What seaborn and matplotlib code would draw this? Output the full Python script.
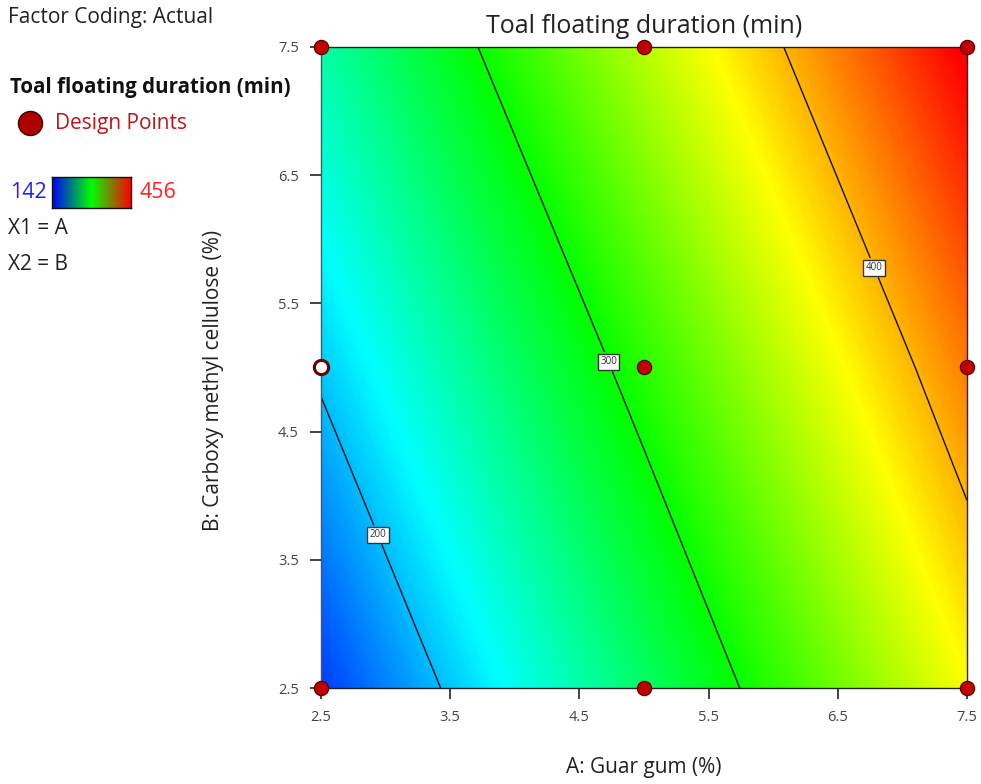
import numpy as np
import pandas as pd
import matplotlib
matplotlib.use("Agg")
import matplotlib.pyplot as plt
from matplotlib.colors import LinearSegmentedColormap
import seaborn as sns

# ---- data ----
guar_levels = [2.5, 5.0, 7.5]          # A: Guar gum (%)
cmc_levels = [2.5, 5.0, 7.5]           # B: Carboxy methyl cellulose (%)
# predicted response at the design grid (rows = CMC level, cols = guar level)
response_grid = [
    [160, 268, 376],
    [204, 311, 417],
    [248, 355, 459],
]
contour_levels = [200, 300, 400]
resp_min, resp_max = 142, 456

design_A = [2.5, 5.0, 7.5, 5.0, 7.5, 2.5, 5.0, 7.5]
design_B = [2.5, 2.5, 2.5, 5.0, 5.0, 7.5, 7.5, 7.5]
hollow_A = [2.5]
hollow_B = [5.0]

xticks = [2.5, 3.5, 4.5, 5.5, 6.5, 7.5]
yticks = [2.5, 3.5, 4.5, 5.5, 6.5, 7.5]

# ---- style ----
sns.set_theme(style="white")
plt.rcParams["font.family"] = ["Open Sans", "DejaVu Sans"]

W, H = 981, 784
fig = plt.figure(figsize=(W / 100, H / 100), dpi=100)
ax = fig.add_axes([321 / W, 1 - 688 / H, (967 - 321) / W, (688 - 47) / H])

cmap = LinearSegmentedColormap.from_list(
    "de", ["#0000ff", "#00ffff", "#00ff00", "#ffff00", "#ff0000"])

Ag, Bg = np.meshgrid(guar_levels, cmc_levels)
Z = np.array(response_grid, dtype=float)
fill_levels = np.linspace(Z.min() - 1, Z.max() + 1, 400)
ax.contourf(Ag, Bg, Z, levels=fill_levels, cmap=cmap,
            vmin=resp_min, vmax=resp_max, antialiased=False, zorder=1)
cs = ax.contour(Ag, Bg, Z, levels=contour_levels, colors="#111111",
                linewidths=1.0, zorder=2)
labels = ax.clabel(cs, fmt="%d", fontsize=7, inline=True, inline_spacing=2,
                   manual=[(2.93, 3.69), (4.74, 5.05), (6.81, 5.79)])
for t in labels:
    t.set_rotation(0)
    t.set_color("#333333")
    t.set_zorder(4)
    t.set_bbox(dict(facecolor="white", edgecolor="#333333", pad=1.8, lw=1.0))

df = pd.DataFrame({"A": design_A, "B": design_B})
sns.scatterplot(data=df, x="A", y="B", ax=ax, s=105, color="#c00000",
                edgecolor="#5a0000", linewidth=0.9, clip_on=False, zorder=5,
                legend=False)
dfh = pd.DataFrame({"A": hollow_A, "B": hollow_B})
sns.scatterplot(data=dfh, x="A", y="B", ax=ax, s=105, color="white",
                edgecolor="#6a0000", linewidth=2.2, clip_on=False, zorder=5,
                legend=False)

ax.set_xlim(2.5, 7.5)
ax.set_ylim(2.5, 7.5)
ax.set_xticks(xticks)
ax.set_yticks(yticks)
ax.set_xticklabels([f"{v:.1f}" for v in xticks])
ax.set_yticklabels([f"{v:.1f}" for v in yticks])
ax.tick_params(axis="both", direction="out", length=8, width=1.2,
               color="#222222", labelcolor="#444444", labelsize=10.5, pad=8,
               bottom=True, left=True)
for sp in ax.spines.values():
    sp.set_visible(True)
    sp.set_color("#222222")
    sp.set_linewidth(1.0)
ax.spines["left"].set_color("#555555")

ax.set_title("Toal floating duration (min)", fontsize=18, color="#222222", pad=10)
ax.set_xlabel("A: Guar gum (%)", fontsize=15, color="#222222")
ax.xaxis.set_label_coords(0.5, -(757 - 688) / 641)
ax.set_ylabel("B: Carboxy methyl cellulose (%)", fontsize=15, color="#222222")
ax.yaxis.set_label_coords((224 - 321) / 646, 0.48)
ax.grid(False)

# ---- left side legend block ----
fig.text(8 / W, 1 - 18 / H, "Factor Coding: Actual", fontsize=15,
         color="#222222", va="center", ha="left")
fig.text(10 / W, 1 - 88 / H, "Toal floating duration (min)", fontsize=14.8,
         fontweight="bold", color="#111111", va="center", ha="left")
fig.text(55 / W, 1 - 124 / H, "Design Points", fontsize=15,
         color="#c0141c", va="center", ha="left")
fig.text(10 / W, 1 - 193 / H, "142", fontsize=15.5, color="#2020ff",
         va="center", ha="left")
fig.text(139 / W, 1 - 193 / H, "456", fontsize=15.5, color="#ff2020",
         va="center", ha="left")
fig.text(8 / W, 1 - 228 / H, "X1 = A", fontsize=15, color="#222222",
         va="center", ha="left")
fig.text(8 / W, 1 - 264 / H, "X2 = B", fontsize=15, color="#222222",
         va="center", ha="left")

leg_ax = fig.add_axes([0, 0, 1, 1], facecolor="none")
leg_ax.set_xlim(0, W)
leg_ax.set_ylim(H, 0)
leg_ax.axis("off")
leg_ax.scatter([30], [123], s=300, color="#b00000", edgecolor="#3a0000",
               linewidth=1.0)

cb_ax = fig.add_axes([52 / W, 1 - 208 / H, (131 - 52) / W, (208 - 177) / H])
cb_cmap = LinearSegmentedColormap.from_list("cb", ["#0000ff", "#00ff00", "#ff0000"])
cb_ax.imshow(np.linspace(0, 1, 256)[None, :], aspect="auto", cmap=cb_cmap)
cb_ax.set_xticks([])
cb_ax.set_yticks([])
for sp in cb_ax.spines.values():
    sp.set_visible(True)
    sp.set_color("#111111")
    sp.set_linewidth(1.0)

fig.savefig("out.png", dpi=100)
